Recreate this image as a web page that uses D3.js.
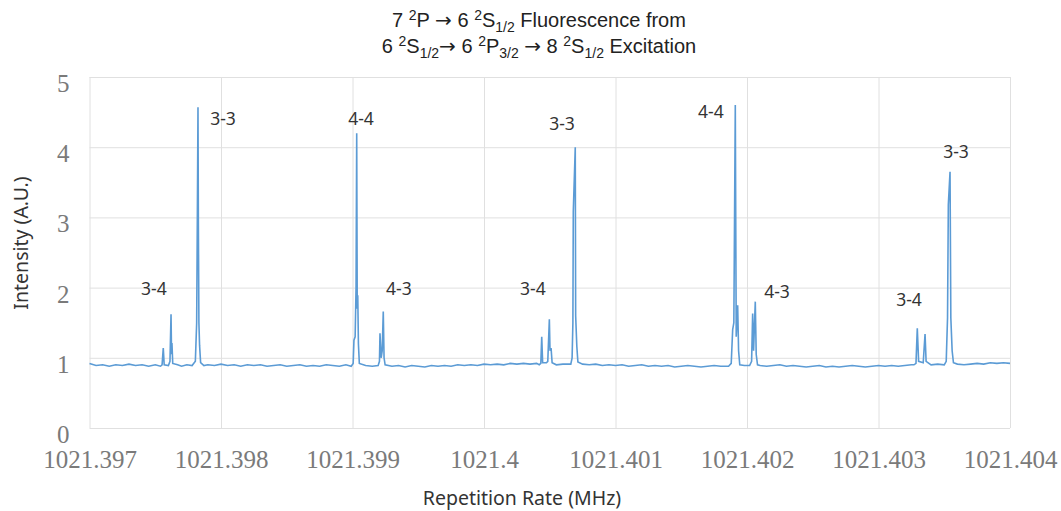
<!DOCTYPE html>
<html>
<head>
<meta charset="utf-8">
<title>Fluorescence vs repetition rate</title>
<script src="https://d3js.org/d3.v7.min.js"></script>
<style>
  body { margin: 0; background: #fff; }
  .grid line { stroke: #e0e0e0; stroke-width: 1px; }
  .grid text { font-family: "Liberation Serif", serif; font-size: 25px; fill: #7a7a7a; }
  .trace { fill: none; stroke: #5b9bd5; stroke-width: 1.6px; }
  .peakLabel { font-family: "Noto Sans", sans-serif; font-size: 17.5px; fill: #333; }
  .axisTitle { font-family: "Noto Sans", sans-serif; font-size: 19.5px; fill: #333; }
  .title { font-family: "Liberation Sans", Arial, sans-serif; font-size: 20px; fill: #222; }
  .arrow { font-family: "DejaVu Sans", sans-serif; }
</style>
</head>
<body>
<div id="chart"></div>
<script>
// repetition rate is kept as an offset from rateBase, in kHz
var rateBase = 1021.397;
var xTicks = [1021.397, 1021.398, 1021.399, 1021.4, 1021.401, 1021.402, 1021.403, 1021.404];
var xTickLabels = ["1021.397", "1021.398", "1021.399", "1021.4", "1021.401", "1021.402", "1021.403", "1021.404"];
var yTicks = [0, 1, 2, 3, 4, 5];

// [offset kHz, intensity A.U.]
var trace = [
  [0.00,0.92],[0.05,0.89],[0.10,0.90],[0.15,0.88],[0.20,0.90],[0.25,0.89],[0.30,0.91],[0.35,0.89],
  [0.40,0.90],[0.45,0.88],[0.50,0.90],[0.540,0.88],[0.552,0.90],[0.561,1.14],[0.568,0.90],
  [0.600,0.89],[0.612,0.95],[0.620,1.62],[0.624,1.05],[0.627,1.21],[0.633,0.92],[0.67,0.90],
  [0.70,0.88],[0.74,0.90],[0.780,0.89],[0.805,0.95],[0.815,1.50],[0.820,2.96],[0.825,4.57],
  [0.828,2.90],[0.832,1.50],[0.837,1.18],[0.845,0.93],[0.870,0.89],
  [0.90,0.90],[0.95,0.89],[1.00,0.91],[1.05,0.89],[1.10,0.90],[1.15,0.88],[1.20,0.90],[1.25,0.89],
  [1.30,0.90],[1.35,0.88],[1.40,0.89],[1.45,0.90],[1.50,0.88],[1.55,0.89],[1.60,0.90],[1.65,0.88],
  [1.70,0.89],[1.75,0.88],[1.80,0.90],[1.85,0.89],[1.90,0.88],[1.95,0.90],
  [1.990,0.88],[2.005,0.92],[2.011,1.25],[2.020,1.30],[2.027,2.00],[2.032,4.20],[2.036,1.70],
  [2.040,1.89],[2.045,1.20],[2.052,0.92],[2.10,0.89],[2.15,0.88],
  [2.195,0.89],[2.205,0.95],[2.209,1.35],[2.218,1.00],[2.226,1.10],[2.234,1.66],[2.240,1.00],
  [2.248,0.90],[2.30,0.88],[2.35,0.89],[2.40,0.87],[2.45,0.89],[2.50,0.88],[2.55,0.87],[2.60,0.89],
  [2.65,0.88],[2.70,0.89],[2.75,0.88],[2.80,0.90],[2.85,0.89],[2.90,0.90],[2.95,0.89],[3.00,0.91],
  [3.05,0.90],[3.10,0.91],[3.15,0.90],[3.20,0.92],[3.25,0.91],[3.30,0.92],[3.35,0.91],[3.40,0.92],
  [3.420,0.90],[3.432,0.92],[3.439,1.30],[3.446,0.93],[3.475,0.93],[3.485,0.95],[3.497,1.55],
  [3.502,1.10],[3.510,1.14],[3.518,0.93],[3.55,0.90],[3.60,0.91],[3.66,0.91],[3.670,1.00],
  [3.676,1.50],[3.679,3.08],[3.694,4.00],[3.697,1.60],[3.706,1.16],[3.714,0.94],
  [3.75,0.91],[3.80,0.90],[3.85,0.91],[3.90,0.89],[3.95,0.90],[4.00,0.89],[4.05,0.90],[4.10,0.88],
  [4.15,0.89],[4.20,0.90],[4.25,0.88],[4.30,0.89],[4.35,0.88],[4.40,0.89],[4.45,0.87],[4.50,0.88],
  [4.55,0.89],[4.60,0.88],[4.65,0.87],[4.70,0.88],[4.75,0.89],[4.80,0.88],[4.86,0.88],
  [4.880,0.92],[4.891,1.40],[4.900,1.50],[4.911,4.60],[4.918,1.30],[4.929,1.75],[4.936,1.10],
  [4.945,0.90],[4.98,0.89],[5.020,0.89],[5.035,0.95],[5.043,1.63],[5.050,1.10],[5.063,1.80],
  [5.070,1.05],[5.080,0.90],
  [5.10,0.89],[5.15,0.88],[5.20,0.89],[5.25,0.90],[5.30,0.88],[5.35,0.89],[5.40,0.88],[5.45,0.87],
  [5.50,0.88],[5.55,0.89],[5.60,0.87],[5.65,0.88],[5.70,0.87],[5.75,0.88],[5.80,0.89],[5.85,0.88],
  [5.90,0.87],[5.95,0.88],[6.00,0.89],[6.05,0.88],[6.10,0.89],[6.15,0.88],[6.20,0.89],[6.25,0.90],
  [6.270,0.90],[6.285,0.92],[6.295,1.42],[6.305,0.95],[6.340,0.93],[6.354,1.34],[6.362,0.95],
  [6.40,0.90],[6.45,0.91],[6.500,0.90],[6.515,0.95],[6.525,1.57],[6.531,3.18],[6.544,3.65],
  [6.550,1.57],[6.560,1.10],[6.570,0.93],
  [6.60,0.91],[6.65,0.90],[6.70,0.91],[6.75,0.92],[6.80,0.91],[6.85,0.93],[6.90,0.92],[6.95,0.93],
  [7.00,0.92]
];

// hyperfine labels: text, offset kHz, intensity where the label sits
var peakNames = ["3-4", "3-3", "4-4", "4-3", "3-4", "3-3", "4-4", "4-3", "3-4", "3-3"];
var peakAtKHz = [0.49, 1.015, 2.065, 2.353, 3.372, 3.593, 4.725, 5.228, 6.232, 6.589];
var peakAtInt = [1.98, 4.40, 4.40, 1.98, 1.98, 4.33, 4.50, 1.94, 1.83, 3.93];

var W = 1061, H = 511;
var margin = {top: 77, right: 51, bottom: 83, left: 89.5},
    width = W - margin.left - margin.right,
    height = H - margin.top - margin.bottom;

var svg = d3.select("#chart").append("svg")
    .attr("width", W)
    .attr("height", H);
var g = svg.append("g")
    .attr("transform", "translate(" + margin.left + "," + margin.top + ")");

var x = d3.scaleLinear().domain([xTicks[0], xTicks[xTicks.length - 1]]).range([0, width]);
var y = d3.scaleLinear().domain([0, 5]).range([height, 0]);

function rate(k) { return rateBase + k / 1000; }

// gridlines + tick labels
var xAxis = g.append("g")
    .attr("class", "grid")
    .attr("transform", "translate(0," + height + ")")
    .call(d3.axisBottom(x)
      .tickValues(xTicks)
      .tickSize(-height)
      .tickFormat(function(d, i) { return xTickLabels[i]; }));
xAxis.select(".domain").remove();
xAxis.selectAll("text").attr("y", 40).attr("dy", 0);

var yAxis = g.append("g")
    .attr("class", "grid")
    .call(d3.axisLeft(y)
      .tickValues(yTicks)
      .tickSize(-width)
      .tickFormat(d3.format("d")));
yAxis.select(".domain").remove();
yAxis.selectAll("text").attr("x", -20).attr("dy", "0.7em").attr("y", -3);

// the trace
g.append("path")
  .datum(trace)
  .attr("class", "trace")
  .attr("d", d3.line()
    .x(function(d) { return x(rate(d[0])); })
    .y(function(d) { return y(d[1]); }));

// peak labels
g.append("g")
  .selectAll("text")
  .data(peakNames)
  .enter()
  .append("text")
    .attr("class", "peakLabel")
    .attr("text-anchor", "middle")
    .attr("dy", "0.35em")
    .attr("x", function(d, i) { return x(rate(peakAtKHz[i])); })
    .attr("y", function(d, i) { return y(peakAtInt[i]); })
    .text(function(d) { return d; });

// axis titles
svg.append("text")
  .attr("class", "axisTitle")
  .attr("text-anchor", "middle")
  .attr("x", 522)
  .attr("y", 505)
  .text("Repetition Rate (MHz)");
svg.append("text")
  .attr("class", "axisTitle")
  .attr("text-anchor", "middle")
  .attr("transform", "translate(28,243) rotate(-90)")
  .text("Intensity (A.U.)");

// title with super/subscripts
function addLine(yPos, parts) {
  var t = svg.append("text")
    .attr("class", "title")
    .attr("text-anchor", "middle")
    .attr("x", 539)
    .attr("y", yPos);
  var shift = 0;
  parts.forEach(function(p) {
    var target = p[1] == "sup" ? -7 : p[1] == "sub" ? 5 : 0;
    var ts = t.append("tspan")
      .attr("dy", target - shift)
      .text(p[0]);
    if (p[1] == "sup" || p[1] == "sub") ts.style("font-size", "14px");
    if (p[1] == "arrow") ts.attr("class", "arrow");
    shift = target;
  });
}
addLine(27, [["7 "], ["2", "sup"], ["P "], ["\u2192", "arrow"], [" 6 "], ["2", "sup"], ["S"], ["1/2", "sub"],
  [" Fluorescence from"]]);
addLine(53, [["6 "], ["2", "sup"], ["S"], ["1/2", "sub"], ["\u2192", "arrow"], [" 6 "], ["2", "sup"], ["P"],
  ["3/2", "sub"], [" "], ["\u2192", "arrow"], [" 8 "], ["2", "sup"], ["S"], ["1/2", "sub"], [" Excitation"]]);
</script>
</body>
</html>
